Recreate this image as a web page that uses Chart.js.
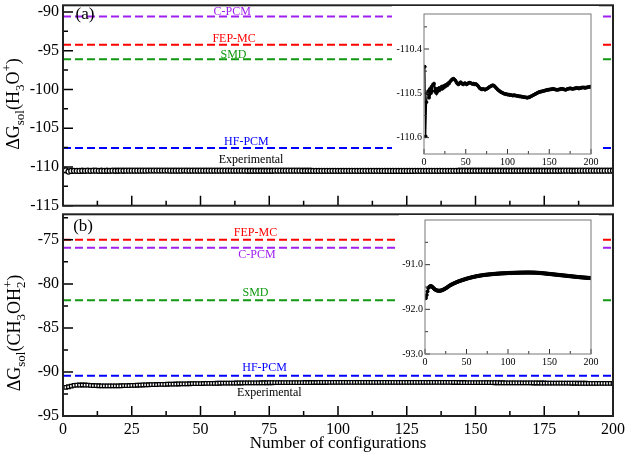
<!DOCTYPE html>
<html>
<head>
<meta charset="utf-8">
<script src="https://cdn.jsdelivr.net/npm/chart.js@4.4.1/dist/chart.umd.min.js"></script>
<style>
  html, body { margin: 0; padding: 0; background: #fff; }
  #wrap { position: relative; width: 627px; height: 455px; overflow: hidden; }
  canvas { position: absolute; }
  #mainA { left: 0; top: 0; }
  #mainB { left: 0; top: 209px; }
  #insetA { left: 392px; top: 6px; background: #fff; }
  #insetB { left: 399px; top: 215px; background: #fff; }
</style>
</head>
<body>
<div id="wrap">
  <canvas id="mainA" width="627" height="211"></canvas>
  <canvas id="mainB" width="627" height="246"></canvas>
  <canvas id="insetA" width="207" height="161"></canvas>
  <canvas id="insetB" width="200" height="151"></canvas>
</div>
<script>
// running average of dG_sol for H3O+ (panel a), configs 1..200
const dGa = [
  -110.44, -110.597, -110.52, -110.50, -110.495, -110.51, -110.49, -110.50, -110.485, -110.495,
  -110.48, -110.478, -110.495, -110.49, -110.50, -110.49, -110.495, -110.488, -110.492, -110.49,
  -110.485, -110.49, -110.484, -110.487, -110.482, -110.484, -110.48, -110.482, -110.477, -110.478,
  -110.474, -110.472, -110.47, -110.468, -110.467, -110.468, -110.47, -110.472, -110.476, -110.478,
  -110.48, -110.479, -110.476, -110.475, -110.477, -110.479, -110.48, -110.478, -110.477, -110.478,
  -110.48, -110.479, -110.477, -110.476, -110.476, -110.477, -110.478, -110.479, -110.478, -110.479,
  -110.48, -110.479, -110.48, -110.482, -110.484, -110.487, -110.489, -110.49, -110.491, -110.491,
  -110.49, -110.491, -110.492, -110.491, -110.49, -110.489, -110.488, -110.486, -110.485, -110.484,
  -110.483, -110.482, -110.482, -110.483, -110.485, -110.487, -110.489, -110.491, -110.493, -110.494,
  -110.496, -110.497, -110.498, -110.499, -110.5, -110.501, -110.501, -110.502, -110.502, -110.503,
  -110.503, -110.503, -110.504, -110.504, -110.504, -110.505, -110.505, -110.504, -110.505, -110.505,
  -110.506, -110.506, -110.506, -110.507, -110.507, -110.507, -110.508, -110.508, -110.508, -110.509,
  -110.509, -110.509, -110.51, -110.51, -110.509, -110.509, -110.508, -110.507, -110.506, -110.505,
  -110.504, -110.503, -110.502, -110.501, -110.5, -110.499, -110.498, -110.497, -110.497, -110.496,
  -110.496, -110.495, -110.495, -110.494, -110.494, -110.493, -110.493, -110.492, -110.492, -110.492,
  -110.491, -110.491, -110.491, -110.49, -110.49, -110.491, -110.491, -110.492, -110.492, -110.492,
  -110.492, -110.491, -110.491, -110.49, -110.49, -110.49, -110.491, -110.491, -110.492, -110.492,
  -110.491, -110.49, -110.49, -110.489, -110.489, -110.489, -110.49, -110.49, -110.49, -110.489,
  -110.489, -110.488, -110.488, -110.488, -110.489, -110.489, -110.488, -110.488, -110.487, -110.487,
  -110.487, -110.487, -110.488, -110.487, -110.487, -110.486, -110.486, -110.486, -110.485, -110.485
];
// running average of dG_sol for CH3OH2+ (panel b)
const dGb = [
  -91.75, -91.68, -91.6, -91.52, -91.5, -91.485, -91.48, -91.485, -91.5, -91.52,
  -91.54, -91.555, -91.565, -91.575, -91.58, -91.583, -91.585, -91.584, -91.58, -91.575,
  -91.568, -91.56, -91.55, -91.54, -91.53, -91.518, -91.505, -91.492, -91.478, -91.465,
  -91.455, -91.445, -91.436, -91.427, -91.418, -91.41, -91.401, -91.393, -91.385, -91.378,
  -91.371, -91.364, -91.358, -91.351, -91.345, -91.339, -91.333, -91.327, -91.321, -91.315,
  -91.31, -91.305, -91.3, -91.295, -91.29, -91.285, -91.28, -91.276, -91.272, -91.268,
  -91.264, -91.26, -91.256, -91.252, -91.249, -91.246, -91.243, -91.24, -91.237, -91.234,
  -91.232, -91.229, -91.227, -91.225, -91.223, -91.221, -91.219, -91.217, -91.215, -91.213,
  -91.212, -91.21, -91.208, -91.207, -91.205, -91.204, -91.202, -91.201, -91.2, -91.198,
  -91.197, -91.196, -91.195, -91.194, -91.193, -91.192, -91.191, -91.19, -91.189, -91.188,
  -91.187, -91.186, -91.186, -91.185, -91.184, -91.184, -91.183, -91.182, -91.182, -91.181,
  -91.181, -91.18, -91.18, -91.179, -91.179, -91.178, -91.178, -91.178, -91.177, -91.177,
  -91.177, -91.177, -91.176, -91.176, -91.176, -91.176, -91.177, -91.177, -91.177, -91.178,
  -91.178, -91.179, -91.18, -91.181, -91.182, -91.183, -91.184, -91.186, -91.187, -91.189,
  -91.19, -91.192, -91.194, -91.196, -91.198, -91.2, -91.202, -91.204, -91.206, -91.208,
  -91.21, -91.212, -91.214, -91.216, -91.218, -91.22, -91.222, -91.224, -91.226, -91.228,
  -91.23, -91.232, -91.234, -91.236, -91.238, -91.24, -91.242, -91.244, -91.246, -91.248,
  -91.25, -91.252, -91.254, -91.256, -91.258, -91.26, -91.262, -91.264, -91.266, -91.268,
  -91.27, -91.272, -91.274, -91.276, -91.277, -91.279, -91.281, -91.283, -91.284, -91.286,
  -91.288, -91.289, -91.291, -91.292, -91.294, -91.295, -91.297, -91.298, -91.299, -91.3
];

// reference methods (horizontal dashed lines)
const methodsA = ['C-PCM', 'FEP-MC', 'SMD', 'HF-PCM'];
const refValsA = [-90.6, -94.25, -96.1, -107.55];
const methodsB = ['FEP-MC', 'C-PCM', 'SMD', 'HF-PCM'];
const refValsB = [-75.0, -75.9, -81.87, -90.42];

// ticks
const xTicks = [0, 25, 50, 75, 100, 125, 150, 175, 200];
const xMinor = [12.5, 37.5, 62.5, 87.5, 112.5, 137.5, 162.5, 187.5];
const yTicksA = [-115, -110, -105, -100, -95, -90];
const yMinorA = [-112.5, -107.5, -102.5, -97.5, -92.5];
const yTicksB = [-95, -90, -85, -80, -75];
const yMinorB = [-92.5, -87.5, -82.5, -77.5, -72.5];
const insetXTicks = [0, 50, 100, 150, 200];
const insetXMinor = [25, 75, 125, 175];
const insetYTicksA = [-110.6, -110.5, -110.4];
const insetYMinorA = [-110.55, -110.45, -110.35];
const insetYTicksB = [-93, -92, -91];
const insetYMinorB = [-92.5, -91.5, -90.5];

const configs = dGa.map((_, i) => i + 1);

const SERIF = "'Liberation Serif', 'Times New Roman', serif";
const colors = { 'C-PCM': '#a020f0', 'FEP-MC': '#ff0000', 'SMD': '#119911', 'HF-PCM': '#0000ff' };

Chart.defaults.font.family = SERIF;
Chart.defaults.color = '#000';

function pts(vals) {
    return vals.map((v, i) => ({ x: configs[i], y: v }));
}

function refLine(name, v) {
    return {
        label: name,
        data: [{ x: 0, y: v }, { x: 200, y: v }],
        borderColor: colors[name],
        borderWidth: 2,
        borderDash: [8, 4],
        pointRadius: 0,
        fill: false
    };
}

function drawRichVertical(ctx, t) {
    // lay out pieces, then draw rotated text centred on (t.cx, t.cy)
    const items = [];
    let pos = 0, lastStart = 0, lastW = 0;
    t.parts.forEach(p => {
        const size = p.k === 'n' ? t.big : t.small;
        ctx.font = size + 'px ' + SERIF;
        const w = ctx.measureText(p.t).width;
        let start = pos;
        if (p.stack) {
            start = lastStart;
            pos = lastStart + Math.max(lastW, w);
        } else {
            pos += w;
        }
        items.push({ p, size, start });
        lastStart = start;
        lastW = w;
    });
    ctx.save();
    ctx.translate(t.cx, t.cy);
    ctx.rotate(-Math.PI / 2);
    ctx.fillStyle = '#000';
    ctx.textAlign = 'left';
    ctx.textBaseline = 'alphabetic';
    items.forEach(it => {
        ctx.font = it.size + 'px ' + SERIF;
        const off = it.p.k === 'sub' ? 5 : (it.p.k === 'sup' ? -8 : 0);
        ctx.fillText(it.p.t, it.start - pos / 2, off);
    });
    ctx.restore();
}

const decor = {
    id: 'decor',
    afterDatasetsDraw(chart, args, o) {
        const { ctx, chartArea: a, scales: { x, y } } = chart;
        ctx.save();
        ctx.strokeStyle = o.tickColor;
        ctx.lineWidth = o.tickWidth;
        ctx.beginPath();
        const xt = (list, len) => list.forEach(v => {
            const px = x.getPixelForValue(v);
            ctx.moveTo(px, a.bottom);
            ctx.lineTo(px, a.bottom - len);
        });
        const yt = (list, len) => list.forEach(v => {
            const py = y.getPixelForValue(v);
            ctx.moveTo(a.left, py);
            ctx.lineTo(a.left + len, py);
        });
        xt(o.xMajor, o.major);
        xt(o.xMinor, o.minor);
        yt(o.yMajor, o.major);
        yt(o.yMinor, o.minor);
        ctx.stroke();

        ctx.strokeStyle = o.frameColor;
        ctx.lineWidth = o.frameWidth;
        ctx.strokeRect(a.left, a.top, a.right - a.left, a.bottom - a.top);

        ctx.textAlign = 'center';
        ctx.textBaseline = 'middle';
        (o.labels || []).forEach(l => {
            ctx.font = l.size + 'px ' + SERIF;
            ctx.fillStyle = l.color;
            ctx.fillText(l.text, x.getPixelForValue(l.x), y.getPixelForValue(l.y));
        });
        if (o.title) drawRichVertical(ctx, o.title);
        ctx.restore();
    }
};

function yScale(min, max, ticks, width, size, pad, fmt) {
    return {
        type: 'linear', min, max,
        afterBuildTicks: s => { s.ticks = ticks.map(v => ({ value: v })); },
        afterFit: s => { s.width = width; s.paddingTop = 0; s.paddingBottom = 0; },
        grid: { display: false, drawTicks: false },
        border: { display: false },
        ticks: { font: { family: SERIF, size }, color: '#000', padding: pad, callback: fmt }
    };
}

function xScale(show, ticks, height, size, pad, title) {
    return {
        type: 'linear', min: 0, max: 200, display: show,
        afterBuildTicks: s => { s.ticks = ticks.map(v => ({ value: v })); },
        afterFit: s => { s.height = height; s.paddingLeft = 0; s.paddingRight = 0; },
        grid: { display: false, drawTicks: false },
        border: { display: false },
        ticks: { font: { family: SERIF, size }, color: '#000', padding: pad, autoSkip: false, maxRotation: 0 },
        title: title || { display: false }
    };
}

const base = {
    responsive: false,
    animation: false,
    events: [],
    plugins: { legend: { display: false }, tooltip: { enabled: false } }
};

function seriesSet(vals, style, r, bw, lw, fillCol) {
    return {
        data: pts(vals),
        borderColor: '#000',
        borderWidth: lw,
        pointStyle: style,
        pointRadius: r,
        pointBorderWidth: bw,
        pointBackgroundColor: fillCol,
        pointBorderColor: '#000',
        tension: 0,
        fill: false
    };
}

const mainTicks = { tickColor: '#000', tickWidth: 1.5, frameColor: '#222', frameWidth: 2, major: 10, minor: 5 };
const insetTicks = { tickColor: '#333', tickWidth: 1, frameColor: '#777', frameWidth: 1, major: 5, minor: 3 };

// panel (a)
new Chart(document.getElementById('mainA'), {
    type: 'line',
    data: { datasets: methodsA.map((m, i) => refLine(m, refValsA[i])).concat([seriesSet(dGa, 'circle', 2.5, 1.3, 1.5, '#fff')]) },
    options: Object.assign({}, base, {
        layout: { padding: { left: 0, right: 14, top: 3, bottom: 3 } },
        scales: {
            x: xScale(false, xTicks, 0, 16, 4),
            y: yScale(-115, -89.15, yTicksA, 63, 16, 4)
        },
        plugins: Object.assign({}, base.plugins, {
            decor: Object.assign({}, mainTicks, {
                xMajor: xTicks, xMinor: xMinor, yMajor: yTicksA, yMinor: yMinorA,
                labels: [
                    { text: '(a)', x: 8, y: -90.38, size: 17, color: '#000' },
                    { text: 'C-PCM', x: 61.5, y: -90.05, size: 12, color: colors['C-PCM'] },
                    { text: 'FEP-MC', x: 62.2, y: -93.47, size: 12, color: colors['FEP-MC'] },
                    { text: 'SMD', x: 62, y: -95.5, size: 12, color: colors['SMD'] },
                    { text: 'HF-PCM', x: 66.7, y: -106.73, size: 12, color: colors['HF-PCM'] },
                    { text: 'Experimental', x: 68.4, y: -109.13, size: 12, color: '#000' }
                ],
                title: {
                    cx: 19, cy: 104, big: 18, small: 13,
                    parts: [
                        { t: 'ΔG', k: 'n' }, { t: 'sol', k: 'sub' }, { t: '(H', k: 'n' },
                        { t: '3', k: 'sub' }, { t: 'O', k: 'n' }, { t: '+', k: 'sup' }, { t: ')', k: 'n' }
                    ]
                }
            })
        })
    }),
    plugins: [decor]
});

// panel (b)
new Chart(document.getElementById('mainB'), {
    type: 'line',
    data: { datasets: methodsB.map((m, i) => refLine(m, refValsB[i])).concat([seriesSet(dGb, 'rect', 2.5, 1.3, 1.5, '#fff')]) },
    options: Object.assign({}, base, {
        layout: { padding: { left: 0, right: 14, top: 3, bottom: 0 } },
        scales: {
            x: xScale(true, xTicks, 39, 16, 4, {
                display: true, text: 'Number of configurations',
                font: { family: SERIF, size: 17 }, color: '#000', padding: { top: 0, bottom: 1 }
            }),
            y: yScale(-95, -72.1, yTicksB, 63, 16, 4)
        },
        plugins: Object.assign({}, base.plugins, {
            decor: Object.assign({}, mainTicks, {
                xMajor: xTicks, xMinor: xMinor, yMajor: yTicksB, yMinor: yMinorB,
                labels: [
                    { text: '(b)', x: 7.3, y: -73.46, size: 17, color: '#000' },
                    { text: 'FEP-MC', x: 70, y: -74.25, size: 12, color: colors['FEP-MC'] },
                    { text: 'C-PCM', x: 70.5, y: -76.66, size: 12, color: colors['C-PCM'] },
                    { text: 'SMD', x: 70, y: -81.03, size: 12, color: colors['SMD'] },
                    { text: 'HF-PCM', x: 73.3, y: -89.55, size: 12, color: colors['HF-PCM'] },
                    { text: 'Experimental', x: 75, y: -92.35, size: 12, color: '#000' }
                ],
                title: {
                    cx: 19.5, cy: 124, big: 18, small: 13,
                    parts: [
                        { t: 'ΔG', k: 'n' }, { t: 'sol', k: 'sub' }, { t: '(CH', k: 'n' },
                        { t: '3', k: 'sub' }, { t: 'OH', k: 'n' }, { t: '2', k: 'sub' },
                        { t: '+', k: 'sup', stack: true }, { t: ')', k: 'n' }
                    ]
                }
            })
        })
    }),
    plugins: [decor]
});

// inset (a)
new Chart(document.getElementById('insetA'), {
    type: 'line',
    data: { datasets: [seriesSet(dGa, 'circle', 1.4, 1, 1.3, '#000')] },
    options: Object.assign({}, base, {
        layout: { padding: { left: 0, right: 8, top: 8, bottom: 0 } },
        scales: {
            x: xScale(true, insetXTicks, 13, 10, 2),
            y: yScale(-110.637, -110.321, insetYTicksA, 32, 10, 2, v => v.toFixed(1))
        },
        plugins: Object.assign({}, base.plugins, {
            decor: Object.assign({}, insetTicks, {
                xMajor: insetXTicks, xMinor: insetXMinor, yMajor: insetYTicksA, yMinor: insetYMinorA
            })
        })
    }),
    plugins: [decor]
});

// inset (b)
new Chart(document.getElementById('insetB'), {
    type: 'line',
    data: { datasets: [seriesSet(dGb, 'circle', 1.6, 1, 1.5, '#000')] },
    options: Object.assign({}, base, {
        layout: { padding: { left: 0, right: 8, top: 3, bottom: 0 } },
        scales: {
            x: xScale(true, insetXTicks, 12, 10, 2),
            y: yScale(-93, -90, insetYTicksB, 26, 10, 2, v => v.toFixed(1))
        },
        plugins: Object.assign({}, base.plugins, {
            decor: Object.assign({}, insetTicks, {
                xMajor: insetXTicks, xMinor: insetXMinor, yMajor: insetYTicksB, yMinor: insetYMinorB
            })
        })
    }),
    plugins: [decor]
});
</script>
</body>
</html>
